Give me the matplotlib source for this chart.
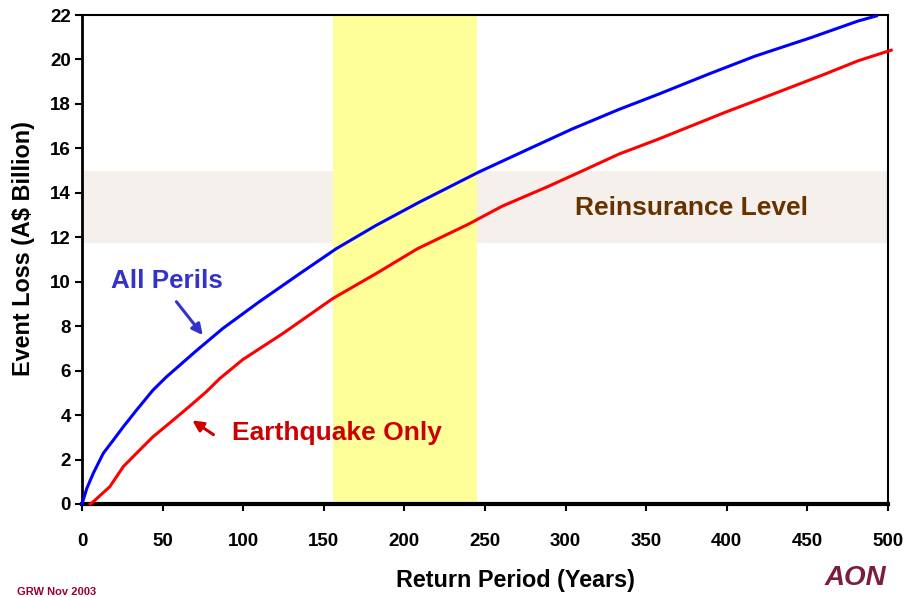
import matplotlib
matplotlib.use("Agg")
import matplotlib.pyplot as plt

plt.rcParams['font.family'] = ['Liberation Sans', 'DejaVu Sans']

# Return period (years) vs event loss (A$ billion)
all_perils_rp = [0, 3, 7, 13.2, 19.4, 25.6, 33.8, 44, 52.4, 60.6, 71, 87.4, 110,
                 135, 157.6, 182.3, 209, 246, 277, 304, 333, 357.7, 388.6, 417.5,
                 452.5, 481.4, 492.8]
all_perils_loss = [0, 0.7, 1.38, 2.28, 2.87, 3.47, 4.22, 5.12, 5.72, 6.24, 6.9,
                   7.9, 9.1, 10.36, 11.48, 12.53, 13.57, 14.93, 15.97, 16.87,
                   17.75, 18.44, 19.34, 20.15, 20.99, 21.73, 21.96]

quake_rp = [5, 7, 17.3, 25.6, 33.8, 44, 56.5, 66.8, 77, 85.4, 99.8, 124.6, 155.5,
            182.3, 208, 240, 260.7, 289.6, 312.3, 333, 357.7, 398.9, 434, 460.8,
            481.4, 502]
quake_loss = [0, 0.1, 0.78, 1.68, 2.28, 3.02, 3.77, 4.4, 5.04, 5.64, 6.5, 7.67,
              9.24, 10.36, 11.48, 12.6, 13.4, 14.3, 15.05, 15.74, 16.42, 17.62,
              18.59, 19.34, 19.94, 20.42]

# Highlighted ranges
rp_band = (156, 245)
reinsurance_band = (11.75, 15.0)

x_ticks = [0, 50, 100, 150, 200, 250, 300, 350, 400, 450, 500]
y_ticks = [0, 2, 4, 6, 8, 10, 12, 14, 16, 18, 20, 22]

fig = plt.figure(figsize=(9.18, 5.97), dpi=100)
ax = fig.add_axes([0.0893, 0.1558, 0.8780, 0.8190])

ax.axhspan(*reinsurance_band, color='#f5f0ec', zorder=0, lw=0)
ax.axvspan(*rp_band, color='#ffff99', zorder=1, lw=0)

ax.plot(all_perils_rp, all_perils_loss, color='#0000ff', lw=2.2, zorder=3,
        clip_on=False)
ax.plot(quake_rp, quake_loss, color='#ff0000', lw=2.2, zorder=3, clip_on=False)

ax.set_xlim(0, 500)
ax.set_ylim(0, 22)
ax.set_xticks(x_ticks)
ax.set_yticks(y_ticks)
ax.tick_params(direction='out', length=5, width=1.5, labelsize=13.5, pad=3)
ax.tick_params(axis='x', pad=16)
for lab in ax.get_xticklabels() + ax.get_yticklabels():
    lab.set_fontweight('bold')

for side in ['top', 'right']:
    ax.spines[side].set_linewidth(1.5)
ax.spines['left'].set_linewidth(2)
ax.spines['bottom'].set_linewidth(3)

ax.set_xlabel('Return Period (Years)', fontsize=16.8, fontweight='bold')
ax.set_ylabel('Event Loss (A$ Billion)', fontsize=16.8, fontweight='bold')
ax.xaxis.set_label_coords(0.538, -0.132)
ax.yaxis.set_label_coords(-0.058, 0.523)

ax.text(378, 13.3, 'Reinsurance Level', color='#663300', fontsize=19,
        fontweight='bold', ha='center', va='center', zorder=4)
ax.text(53, 10.05, 'All Perils', color='#3333cc', fontsize=18.7,
        fontweight='bold', ha='center', va='center', zorder=4)
ax.annotate('', xy=(76, 7.5), xytext=(57.5, 9.2),
            arrowprops=dict(arrowstyle='-|>', color='#3333cc', lw=2.2,
                            mutation_scale=16))
ax.text(158, 3.18, 'Earthquake Only', color='#cc0000', fontsize=19,
        fontweight='bold', ha='center', va='center', zorder=4)
ax.annotate('', xy=(67, 3.83), xytext=(83, 3.05),
            arrowprops=dict(arrowstyle='-|>', color='#cc0000', lw=2.2,
                            mutation_scale=16))

fig.text(17 / 918, 1 - 592 / 597, 'GRW Nov 2003', color='#990033', fontsize=8,
         fontweight='bold', ha='left', va='center')
fig.text(855 / 918, 1 - 578 / 597, 'AON', color='#7b1e3c', fontsize=20,
         fontweight='heavy', style='italic', ha='center', va='center')

fig.savefig('out.png', dpi=100)
